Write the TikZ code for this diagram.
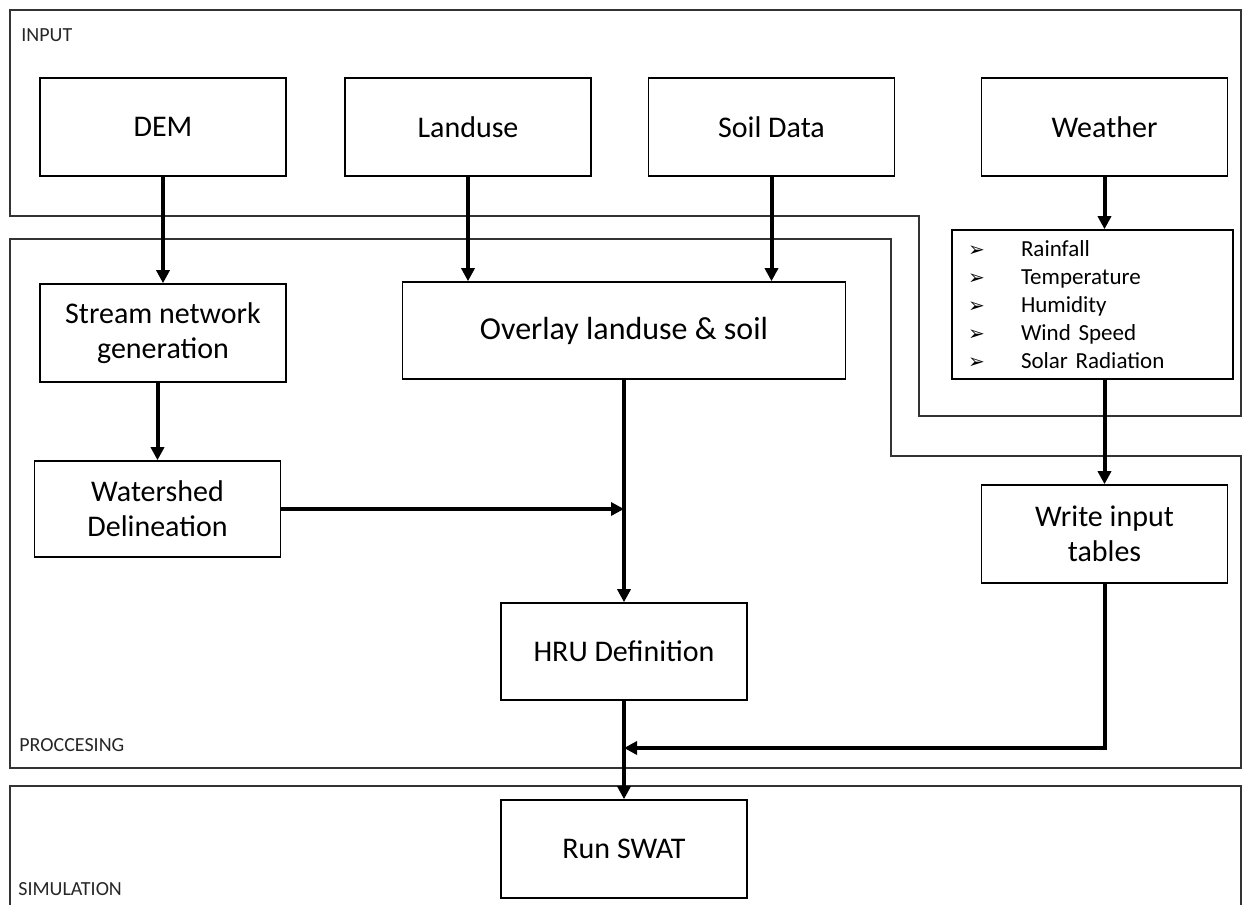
\documentclass[tikz,border=0pt]{standalone}
\usepackage{fontspec}
\setmainfont{Carlito}
\newfontfamily\symfont{DejaVu Sans}
\usepackage{tikz}
\usetikzlibrary{positioning, calc, arrows.meta}

\tikzset{
    box/.style={draw, line width=0.8pt, minimum width=123pt, minimum height=49pt,
        align=center, inner sep=2pt, font=\fontsize{15}{17.5}\selectfont},
    arr/.style={line width=2pt, -{Triangle[length=6.5pt, width=6.5pt]}},
    region/.style={line width=0.8pt, draw=black!80},
    regionlbl/.style={anchor=west, inner sep=0pt, font=\fontsize{10}{11}\selectfont, text=black!85},
}
\newcommand{\listbullet}{\makebox[26.5pt][l]{\symfont\fontsize{10}{10}\selectfont ➢}}

\begin{document}
\begin{tikzpicture}[x=0.5pt, y=-0.5pt]
    \useasboundingbox (0,0) rectangle (1244,905);

    % Regions
    \draw[region] (10,10) -- (1241,10) -- (1241,416) -- (919,416) -- (919,216) -- (10,216) -- cycle;
    \draw[region] (10,239) -- (891,239) -- (891,456) -- (1241,456) -- (1241,768) -- (10,768) -- cycle;
    \draw[region] (10,905) -- (10,786) -- (1241,786) -- (1241,905);
    \node[regionlbl] (inlbl) at (21,35) {INPUT};
    \node[regionlbl] (proclbl) at (19,745) {PROCCESING};
    \node[regionlbl] (simlbl) at (18,889) {SIMULATION};

    % Input boxes
    \node[box] (dem) at (163,127) {DEM};
    \node[box] (landuse) at (468,127) {Landuse};
    \node[box] (soil) at (771.5,127) {Soil Data};
    \node[box] (weather) at (1104.5,127) {Weather};

    % Weather variables
    \node[box, minimum width=140.5pt, minimum height=74.5pt, align=left,
        text width=124.5pt, inner xsep=8pt,
        font=\fontsize{11.5}{14}\selectfont] (wvars) at (1092.5,304.5)
        {\listbullet Rainfall\\ \listbullet Temperature\\ \listbullet Humidity\\
         \listbullet Wind Speed\\ \listbullet Solar Radiation};

    % Processing boxes
    \node[box] (stream) at (163,333) {Stream network\\generation};
    \node[box, minimum width=221.5pt, minimum height=48.5pt,
        font=\fontsize{16}{18}\selectfont] (overlay) at (624,330.5) {Overlay landuse \& soil};
    \node[box, minimum height=48pt] (wshed) at (157.5,509) {Watershed\\Delineation};
    \node[box, minimum height=48.5pt] (hru) at (624,651.5) {HRU Definition};
    \node[box] (write) at (1104.5,534) {Write input\\tables};

    % Simulation box
    \node[box] (run) at (624,849) {Run SWAT};

    % Junctions
    \coordinate (j1) at (624,509);
    \coordinate (j2) at (624,748);

    % Arrows
    \draw[arr] (dem) -- (stream);
    \draw[arr] (landuse.south) -- (landuse.south |- overlay.north);
    \draw[arr] (soil.south) -- (soil.south |- overlay.north);
    \draw[arr] (weather) -- (weather.south |- wvars.north);
    \draw[arr] (stream.south -| wshed.north) -- (wshed.north);
    \draw[arr] (overlay) -- (hru);
    \draw[arr] (wshed.east) -- (j1);
    \draw[arr] (weather.south |- wvars.south) -- (write.north);
    \draw[arr] (write.south) |- (j2);
    \draw[arr] (hru) -- (run);

\end{tikzpicture}
\end{document}
